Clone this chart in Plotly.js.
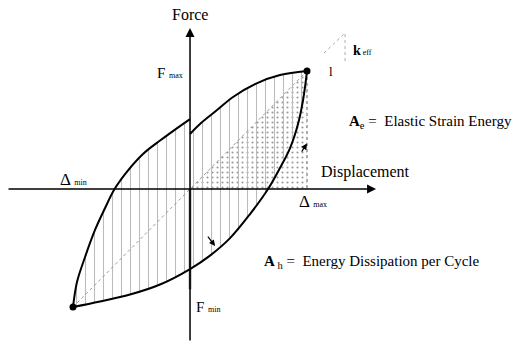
<!DOCTYPE html>
<html>
<head>
<meta charset="utf-8">
<script src="https://cdn.plot.ly/plotly-3.0.1.min.js"></script>
<style>html,body{margin:0;padding:0;background:#fff;}#chart{width:518px;height:352px;}</style>
</head>
<body>
<div id="chart"></div>
<script>
// Normalised units: displacement / Δmax, force / Fmax
const loadLeftDisp   = [-1, -0.966, -0.897, -0.812, -0.726, -0.645, -0.538, -0.402, -0.256, -0.128, 0];
const loadLeftForce  = [-1, -0.788, -0.576, -0.347, -0.161, 0, 0.148, 0.297, 0.411, 0.504, 0.593];
const loadRightDisp  = [0, 0.085, 0.231, 0.368, 0.570, 0.769, 1];
const loadRightForce = [0.466, 0.551, 0.669, 0.780, 0.896, 0.966, 1];
const unloadDisp  = [1, 0.966, 0.923, 0.855, 0.769, 0.667, 0.513, 0.342, 0.171, 0, -0.256, -0.513, -0.769, -1];
const unloadForce = [1, 0.754, 0.551, 0.347, 0.178, 0, -0.212, -0.416, -0.564, -0.678, -0.809, -0.894, -0.953, -1];
const peakDisp = [-1, 1];
const peakForce = [-1, 1];
const elasticDisp = [0, 1, 1, 0];
const elasticForce = [0, 1, 0, 0];
const slopeDisp = [1.145, 1.316, 1.325, 1.325];
const slopeForce = [1.153, 1.322, 1.322, 1.076];

const serif = "Liberation Serif";
const loopX = loadLeftDisp.concat(loadRightDisp, unloadDisp.slice(1));
const loopY = loadLeftForce.concat(loadRightForce, unloadForce.slice(1));

const curve = {color: '#000', width: 2, shape: 'spline', smoothing: 1};
const traces = [
  {x: elasticDisp, y: elasticForce, mode: 'lines', fill: 'toself', line: {width: 0, color: 'rgba(0,0,0,0)'},
   fillcolor: 'rgba(0,0,0,0)', fillpattern: {shape: '.', size: 5, solidity: 0.14, fgcolor: '#999', bgcolor: 'rgba(0,0,0,0)'}, hoverinfo: 'skip'},
  {x: loopX, y: loopY, mode: 'lines', fill: 'toself', line: {width: 0, color: 'rgba(0,0,0,0)', shape: 'spline', smoothing: 0.6},
   fillcolor: 'rgba(0,0,0,0)', fillpattern: {shape: '|', size: 9, solidity: 0.12, fgcolor: '#bbb', bgcolor: 'rgba(0,0,0,0)'}, hoverinfo: 'skip'},
  {x: peakDisp, y: peakForce, mode: 'lines', line: {color: '#999', width: 1, dash: 'dot'}},
  {x: [peakDisp[1], peakDisp[1]], y: [peakForce[1], 0], mode: 'lines', line: {color: '#666', width: 1, dash: 'dot'}},
  {x: slopeDisp, y: slopeForce, mode: 'lines', line: {color: '#aaa', width: 1, dash: 'dot'}},
  {x: [0, 0], y: [0, -0.85], mode: 'lines', line: {color: '#555', width: 2.5}},
  {x: loadLeftDisp, y: loadLeftForce, mode: 'lines', line: curve},
  {x: loadRightDisp, y: loadRightForce, mode: 'lines', line: curve},
  {x: unloadDisp, y: unloadForce, mode: 'lines', line: curve},
  {x: peakDisp, y: peakForce, mode: 'markers', marker: {color: '#000', size: 7}}
];

function arrow(x, y, ax, ay, w, size) {
  return {x: x, y: y, ax: ax, ay: ay, xref: 'x', yref: 'y', axref: 'x', ayref: 'y', text: '',
    showarrow: true, arrowhead: 2, arrowsize: size, arrowwidth: w, arrowcolor: '#000'};
}
function label(x, y, text, size, xanchor) {
  return {x: x, y: y, xref: 'x', yref: 'y', text: text, showarrow: false, xanchor: xanchor || 'center', yanchor: 'middle',
    font: {family: serif, size: size, color: '#000'}};
}
const small = s => '<span style="font-size:8px">' + s + '</span>';

const annotations = [
  arrow(1.590, 0, -1.564, 0, 1.5, 1.2),
  arrow(0, 1.364, 0, -1.297, 1.5, 1.2),
  arrow(1.0, 0.386, 0.946, 0.305, 1.2, 1),
  arrow(0.214, -0.483, 0.143, -0.390, 1.2, 1),
  label(0, 1.483, 'Force', 16),
  label(-0.171, 0.983, 'F ' + small('max'), 15),
  label(-1.0, 0.085, 'Δ ' + small('min'), 17),
  label(1.051, -0.102, 'Δ ' + small('max'), 17),
  label(0.154, -1.0, 'F ' + small('min'), 15),
  label(1.496, 0.144, 'Displacement', 16),
  label(1.342, 0.568, '<b>A</b><sub>e</sub> =  Elastic Strain Energy', 15, 'left'),
  label(0.615, -0.619, '<b>A</b><sub> h</sub> =  Energy Dissipation per Cycle', 15, 'left'),
  label(1.376, 1.17, '<b>k</b>' + small(' eff'), 14, 'left'),
  label(1.205, 0.992, 'l', 13)
];

const layout = {
  width: 518, height: 352,
  margin: {l: 0, r: 0, t: 0, b: 0},
  paper_bgcolor: '#fff', plot_bgcolor: '#fff',
  showlegend: false,
  font: {family: serif},
  xaxis: {range: [-1.624, 2.803], visible: false, fixedrange: true},
  yaxis: {range: [-1.381, 1.602], visible: false, fixedrange: true},
  annotations: annotations
};

Plotly.newPlot('chart', traces, layout, {displayModeBar: false, staticPlot: true});
</script>
</body>
</html>
